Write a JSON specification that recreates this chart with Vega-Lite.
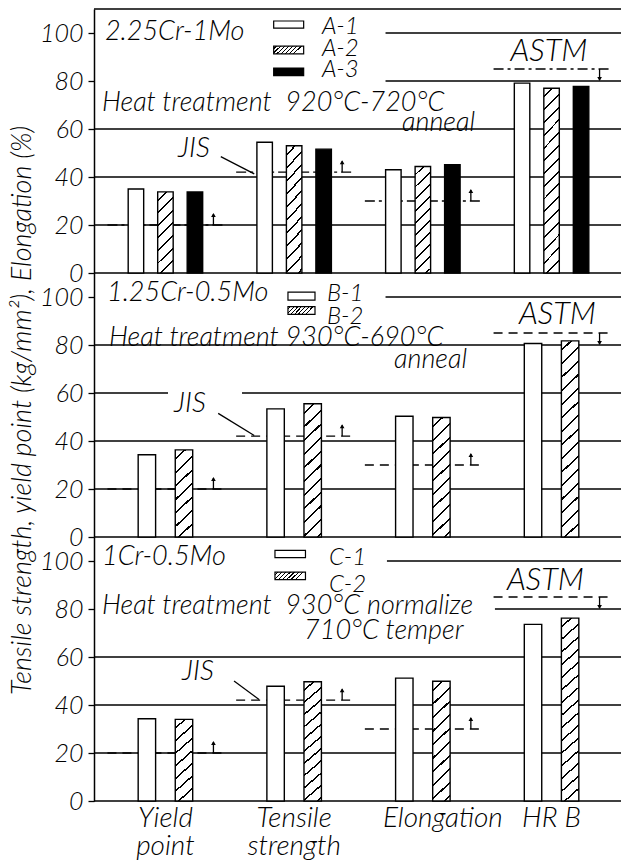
{
"$schema":"https://vega.github.io/schema/vega-lite/v6.json",
"padding":{"left":8,"top":8,"right":0,"bottom":0},
"autosize":{"type":"pad"},
"bounds":"flush",
"spacing":0,
"resolve":{"scale":{"xOffset":"independent"}},
"datasets":{
"bars":[
{"panel":"A","prop":"Yield point","sample":"A-1","value":35.0},
{"panel":"A","prop":"Yield point","sample":"A-2","value":33.8},
{"panel":"A","prop":"Yield point","sample":"A-3","value":33.8},
{"panel":"A","prop":"Tensile strength","sample":"A-1","value":54.5},
{"panel":"A","prop":"Tensile strength","sample":"A-2","value":53.0},
{"panel":"A","prop":"Tensile strength","sample":"A-3","value":51.6},
{"panel":"A","prop":"Elongation","sample":"A-1","value":43.0},
{"panel":"A","prop":"Elongation","sample":"A-2","value":44.4},
{"panel":"A","prop":"Elongation","sample":"A-3","value":45.1},
{"panel":"A","prop":"HR B","sample":"A-1","value":79.1},
{"panel":"A","prop":"HR B","sample":"A-2","value":77.0},
{"panel":"A","prop":"HR B","sample":"A-3","value":77.7},
{"panel":"B","prop":"Yield point","sample":"B-1","value":34.3},
{"panel":"B","prop":"Yield point","sample":"B-2","value":36.3},
{"panel":"B","prop":"Tensile strength","sample":"B-1","value":53.4},
{"panel":"B","prop":"Tensile strength","sample":"B-2","value":55.5},
{"panel":"B","prop":"Elongation","sample":"B-1","value":50.3},
{"panel":"B","prop":"Elongation","sample":"B-2","value":49.8},
{"panel":"B","prop":"HR B","sample":"B-1","value":80.6},
{"panel":"B","prop":"HR B","sample":"B-2","value":81.7},
{"panel":"C","prop":"Yield point","sample":"C-1","value":34.3},
{"panel":"C","prop":"Yield point","sample":"C-2","value":34.0},
{"panel":"C","prop":"Tensile strength","sample":"C-1","value":47.8},
{"panel":"C","prop":"Tensile strength","sample":"C-2","value":49.7},
{"panel":"C","prop":"Elongation","sample":"C-1","value":51.2},
{"panel":"C","prop":"Elongation","sample":"C-2","value":49.9},
{"panel":"C","prop":"HR B","sample":"C-1","value":73.6},
{"panel":"C","prop":"HR B","sample":"C-2","value":76.2}
],
"standards":[
{"panel":"A","prop":"Yield point","std":"JIS","value":20,"limit":"min"},
{"panel":"A","prop":"Tensile strength","std":"JIS","value":42,"limit":"min"},
{"panel":"A","prop":"Elongation","std":"JIS","value":30,"limit":"min"},
{"panel":"A","prop":"HR B","std":"ASTM","value":85,"limit":"max"},
{"panel":"B","prop":"Yield point","std":"JIS","value":20,"limit":"min"},
{"panel":"B","prop":"Tensile strength","std":"JIS","value":42,"limit":"min"},
{"panel":"B","prop":"Elongation","std":"JIS","value":30,"limit":"min"},
{"panel":"B","prop":"HR B","std":"ASTM","value":85,"limit":"max"},
{"panel":"C","prop":"Yield point","std":"JIS","value":20,"limit":"min"},
{"panel":"C","prop":"Tensile strength","std":"JIS","value":42,"limit":"min"},
{"panel":"C","prop":"Elongation","std":"JIS","value":30,"limit":"min"},
{"panel":"C","prop":"HR B","std":"ASTM","value":85,"limit":"max"}
]
},
"vconcat":[
{
"width":529,"height":264,
"resolve":{"scale":{"x":"independent"}},
"layer":[
{"data":{"values":[{}]},"layer":[
{"mark":"rule","encoding":{"x":{"datum":-0.055,"type":"quantitative","scale":{"domain":[-0.055,4.055],"nice":false,"zero":false},"axis":null},"x2":{"datum":4.055},"y":{"datum":0,"type":"quantitative","scale":{"domain":[0,110],"nice":false},"title":null,"axis":{"values":[0,20,40,60,80,100],"title":null}}}},
{"mark":"rule","encoding":{"x":{"datum":-0.055,"type":"quantitative","axis":null},"x2":{"datum":4.055},"y":{"datum":20,"type":"quantitative","title":null}}},
{"mark":"rule","encoding":{"x":{"datum":-0.055,"type":"quantitative","axis":null},"x2":{"datum":4.055},"y":{"datum":40,"type":"quantitative","title":null}}},
{"mark":"rule","encoding":{"x":{"datum":-0.055,"type":"quantitative","axis":null},"x2":{"datum":4.055},"y":{"datum":60,"type":"quantitative","title":null}}},
{"mark":"rule","encoding":{"x":{"datum":2.21,"type":"quantitative","axis":null},"x2":{"datum":4.055},"y":{"datum":80,"type":"quantitative","title":null}}},
{"mark":"rule","encoding":{"x":{"datum":2.21,"type":"quantitative","axis":null},"x2":{"datum":4.055},"y":{"datum":100,"type":"quantitative","title":null}}},
{"mark":"rule","encoding":{"x":{"datum":-0.055,"type":"quantitative","axis":null},"x2":{"datum":4.055},"y":{"datum":110,"type":"quantitative","title":null}}}
]},
{"layer":[
{"data":{"name":"standards"},"transform":[{"filter":"datum.panel == 'A'"}],
"mark":{"type":"rule","strokeDash":[10,4,3,4],"xOffset":-58,"x2Offset":60},
"encoding":{"x":{"field":"prop","type":"nominal","scale":{"domain":["Yield point","Tensile strength","Elongation","HR B"],"paddingInner":0,"paddingOuter":0.055},"axis":null},"x2":{"field":"prop"},"y":{"field":"value","type":"quantitative","scale":{"domain":[0,110],"nice":false},"title":null}}},
{"data":{"name":"standards"},"transform":[{"filter":"datum.panel == 'A' && datum.limit == 'min'"}],
"mark":{"type":"rule","xOffset":48,"y2Offset":-11},
"encoding":{"x":{"field":"prop","type":"nominal","axis":null},"y":{"field":"value","type":"quantitative","title":null},"y2":{"field":"value"}}},
{"data":{"name":"standards"},"transform":[{"filter":"datum.panel == 'A' && datum.limit == 'min'"}],
"mark":{"type":"point","shape":"triangle-up","filled":true,"color":"black","opacity":1,"size":22,"xOffset":48,"yOffset":-10},
"encoding":{"x":{"field":"prop","type":"nominal","axis":null},"y":{"field":"value","type":"quantitative","title":null}}},
{"data":{"name":"standards"},"transform":[{"filter":"datum.panel == 'A' && datum.limit == 'max'"}],
"mark":{"type":"rule","xOffset":48,"y2Offset":11},
"encoding":{"x":{"field":"prop","type":"nominal","axis":null},"y":{"field":"value","type":"quantitative","title":null},"y2":{"field":"value"}}},
{"data":{"name":"standards"},"transform":[{"filter":"datum.panel == 'A' && datum.limit == 'max'"}],
"mark":{"type":"point","shape":"triangle-down","filled":true,"color":"black","opacity":1,"size":22,"xOffset":48,"yOffset":10},
"encoding":{"x":{"field":"prop","type":"nominal","axis":null},"y":{"field":"value","type":"quantitative","title":null}}},
{"data":{"name":"bars"},"transform":[{"filter":"datum.panel == 'A'"}],
"mark":{"type":"bar","stroke":"black","strokeWidth":1.4},
"encoding":{
"x":{"field":"prop","type":"nominal","scale":{"domain":["Yield point","Tensile strength","Elongation","HR B"],"paddingInner":0,"paddingOuter":0.055},"axis":null},
"xOffset":{"field":"sample","type":"nominal","scale":{"paddingInner":0.475,"paddingOuter":0.919}},
"y":{"field":"value","type":"quantitative","scale":{"domain":[0,110],"nice":false},"title":null},
"fill":{"condition":[
{"test":"datum.sample == 'A-3'","value":"black"},
{"test":"indexof(datum.sample, '-2') > 0 && datum.prop == 'Yield point'","value":{"gradient":"linear","x1":0,"y1":0,"x2":1,"y2":5.25,"stops":[{"offset":0,"color":"#fff"},{"offset":0.0175,"color":"#fff"},{"offset":0.0175,"color":"#000"},{"offset":0.0219,"color":"#000"},{"offset":0.0219,"color":"#fff"},{"offset":0.046,"color":"#fff"},{"offset":0.046,"color":"#000"},{"offset":0.0504,"color":"#000"},{"offset":0.0504,"color":"#fff"},{"offset":0.0744,"color":"#fff"},{"offset":0.0744,"color":"#000"},{"offset":0.0788,"color":"#000"},{"offset":0.0788,"color":"#fff"},{"offset":0.1028,"color":"#fff"},{"offset":0.1028,"color":"#000"},{"offset":0.1072,"color":"#000"},{"offset":0.1072,"color":"#fff"},{"offset":0.1313,"color":"#fff"},{"offset":0.1313,"color":"#000"},{"offset":0.1357,"color":"#000"},{"offset":0.1357,"color":"#fff"},{"offset":0.1597,"color":"#fff"},{"offset":0.1597,"color":"#000"},{"offset":0.1641,"color":"#000"},{"offset":0.1641,"color":"#fff"},{"offset":0.1882,"color":"#fff"},{"offset":0.1882,"color":"#000"},{"offset":0.1926,"color":"#000"},{"offset":0.1926,"color":"#fff"},{"offset":0.2166,"color":"#fff"},{"offset":0.2166,"color":"#000"},{"offset":0.221,"color":"#000"},{"offset":0.221,"color":"#fff"},{"offset":1,"color":"#fff"}]}},
{"test":"indexof(datum.sample, '-2') > 0 && datum.prop == 'Tensile strength'","value":{"gradient":"linear","x1":0,"y1":0,"x2":1,"y2":7.9375,"stops":[{"offset":0,"color":"#fff"},{"offset":0.0078,"color":"#fff"},{"offset":0.0078,"color":"#000"},{"offset":0.0098,"color":"#000"},{"offset":0.0098,"color":"#fff"},{"offset":0.0205,"color":"#fff"},{"offset":0.0205,"color":"#000"},{"offset":0.0225,"color":"#000"},{"offset":0.0225,"color":"#fff"},{"offset":0.0332,"color":"#fff"},{"offset":0.0332,"color":"#000"},{"offset":0.0352,"color":"#000"},{"offset":0.0352,"color":"#fff"},{"offset":0.0459,"color":"#fff"},{"offset":0.0459,"color":"#000"},{"offset":0.0479,"color":"#000"},{"offset":0.0479,"color":"#fff"},{"offset":0.0586,"color":"#fff"},{"offset":0.0586,"color":"#000"},{"offset":0.0606,"color":"#000"},{"offset":0.0606,"color":"#fff"},{"offset":0.0713,"color":"#fff"},{"offset":0.0713,"color":"#000"},{"offset":0.0733,"color":"#000"},{"offset":0.0733,"color":"#fff"},{"offset":0.084,"color":"#fff"},{"offset":0.084,"color":"#000"},{"offset":0.086,"color":"#000"},{"offset":0.086,"color":"#fff"},{"offset":0.0967,"color":"#fff"},{"offset":0.0967,"color":"#000"},{"offset":0.0987,"color":"#000"},{"offset":0.0987,"color":"#fff"},{"offset":0.1094,"color":"#fff"},{"offset":0.1094,"color":"#000"},{"offset":0.1114,"color":"#000"},{"offset":0.1114,"color":"#fff"},{"offset":0.1221,"color":"#fff"},{"offset":0.1221,"color":"#000"},{"offset":0.1241,"color":"#000"},{"offset":0.1241,"color":"#fff"},{"offset":0.1348,"color":"#fff"},{"offset":0.1348,"color":"#000"},{"offset":0.1368,"color":"#000"},{"offset":0.1368,"color":"#fff"},{"offset":1,"color":"#fff"}]}},
{"test":"indexof(datum.sample, '-2') > 0 && datum.prop == 'Elongation'","value":{"gradient":"linear","x1":0,"y1":0,"x2":1,"y2":7.1875,"stops":[{"offset":0,"color":"#fff"},{"offset":0.0095,"color":"#fff"},{"offset":0.0095,"color":"#000"},{"offset":0.0119,"color":"#000"},{"offset":0.0119,"color":"#fff"},{"offset":0.0249,"color":"#fff"},{"offset":0.0249,"color":"#000"},{"offset":0.0273,"color":"#000"},{"offset":0.0273,"color":"#fff"},{"offset":0.0404,"color":"#fff"},{"offset":0.0404,"color":"#000"},{"offset":0.0428,"color":"#000"},{"offset":0.0428,"color":"#fff"},{"offset":0.0558,"color":"#fff"},{"offset":0.0558,"color":"#000"},{"offset":0.0582,"color":"#000"},{"offset":0.0582,"color":"#fff"},{"offset":0.0712,"color":"#fff"},{"offset":0.0712,"color":"#000"},{"offset":0.0736,"color":"#000"},{"offset":0.0736,"color":"#fff"},{"offset":0.0866,"color":"#fff"},{"offset":0.0866,"color":"#000"},{"offset":0.089,"color":"#000"},{"offset":0.089,"color":"#fff"},{"offset":0.1021,"color":"#fff"},{"offset":0.1021,"color":"#000"},{"offset":0.1045,"color":"#000"},{"offset":0.1045,"color":"#fff"},{"offset":0.1175,"color":"#fff"},{"offset":0.1175,"color":"#000"},{"offset":0.1199,"color":"#000"},{"offset":0.1199,"color":"#fff"},{"offset":0.1329,"color":"#fff"},{"offset":0.1329,"color":"#000"},{"offset":0.1353,"color":"#000"},{"offset":0.1353,"color":"#fff"},{"offset":0.1484,"color":"#fff"},{"offset":0.1484,"color":"#000"},{"offset":0.1508,"color":"#000"},{"offset":0.1508,"color":"#fff"},{"offset":1,"color":"#fff"}]}},
{"test":"indexof(datum.sample, '-2') > 0 && datum.prop == 'HR B'","value":{"gradient":"linear","x1":0,"y1":0,"x2":1,"y2":11.75,"stops":[{"offset":0,"color":"#fff"},{"offset":0.0036,"color":"#fff"},{"offset":0.0036,"color":"#000"},{"offset":0.0045,"color":"#000"},{"offset":0.0045,"color":"#fff"},{"offset":0.0094,"color":"#fff"},{"offset":0.0094,"color":"#000"},{"offset":0.0103,"color":"#000"},{"offset":0.0103,"color":"#fff"},{"offset":0.0153,"color":"#fff"},{"offset":0.0153,"color":"#000"},{"offset":0.0162,"color":"#000"},{"offset":0.0162,"color":"#fff"},{"offset":0.0211,"color":"#fff"},{"offset":0.0211,"color":"#000"},{"offset":0.022,"color":"#000"},{"offset":0.022,"color":"#fff"},{"offset":0.027,"color":"#fff"},{"offset":0.027,"color":"#000"},{"offset":0.0279,"color":"#000"},{"offset":0.0279,"color":"#fff"},{"offset":0.0328,"color":"#fff"},{"offset":0.0328,"color":"#000"},{"offset":0.0337,"color":"#000"},{"offset":0.0337,"color":"#fff"},{"offset":0.0387,"color":"#fff"},{"offset":0.0387,"color":"#000"},{"offset":0.0396,"color":"#000"},{"offset":0.0396,"color":"#fff"},{"offset":0.0445,"color":"#fff"},{"offset":0.0445,"color":"#000"},{"offset":0.0454,"color":"#000"},{"offset":0.0454,"color":"#fff"},{"offset":0.0503,"color":"#fff"},{"offset":0.0503,"color":"#000"},{"offset":0.0512,"color":"#000"},{"offset":0.0512,"color":"#fff"},{"offset":0.0562,"color":"#fff"},{"offset":0.0562,"color":"#000"},{"offset":0.0571,"color":"#000"},{"offset":0.0571,"color":"#fff"},{"offset":0.062,"color":"#fff"},{"offset":0.062,"color":"#000"},{"offset":0.0629,"color":"#000"},{"offset":0.0629,"color":"#fff"},{"offset":0.0679,"color":"#fff"},{"offset":0.0679,"color":"#000"},{"offset":0.0688,"color":"#000"},{"offset":0.0688,"color":"#fff"},{"offset":0.0737,"color":"#fff"},{"offset":0.0737,"color":"#000"},{"offset":0.0746,"color":"#000"},{"offset":0.0746,"color":"#fff"},{"offset":0.0796,"color":"#fff"},{"offset":0.0796,"color":"#000"},{"offset":0.0805,"color":"#000"},{"offset":0.0805,"color":"#fff"},{"offset":0.0854,"color":"#fff"},{"offset":0.0854,"color":"#000"},{"offset":0.0863,"color":"#000"},{"offset":0.0863,"color":"#fff"},{"offset":0.0912,"color":"#fff"},{"offset":0.0912,"color":"#000"},{"offset":0.0921,"color":"#000"},{"offset":0.0921,"color":"#fff"},{"offset":1,"color":"#fff"}]}}
],"value":"white"}
}}
]},
{"data":{"values":[{}]},"layer":[
{"mark":{"type":"text","text":"2.25Cr-1Mo"},"encoding":{"x":{"datum":0.03,"type":"quantitative","scale":{"domain":[-0.055,4.055],"nice":false,"zero":false},"axis":null},"y":{"datum":97,"type":"quantitative","title":null}}},
{"mark":{"type":"rect","fill":"white"},"encoding":{"x":{"datum":1.341,"type":"quantitative","axis":null},"x2":{"datum":1.574},"y":{"datum":102,"type":"quantitative","title":null},"y2":{"datum":105}}},
{"mark":{"type":"rect","fill":{"gradient":"linear","x1":0,"y1":0,"x2":1,"y2":0.2655,"stops":[{"offset":0,"color":"#fff"},{"offset":0.064,"color":"#fff"},{"offset":0.064,"color":"#000"},{"offset":0.106,"color":"#000"},{"offset":0.106,"color":"#fff"},{"offset":0.193,"color":"#fff"},{"offset":0.193,"color":"#000"},{"offset":0.235,"color":"#000"},{"offset":0.235,"color":"#fff"},{"offset":0.322,"color":"#fff"},{"offset":0.322,"color":"#000"},{"offset":0.364,"color":"#000"},{"offset":0.364,"color":"#fff"},{"offset":0.451,"color":"#fff"},{"offset":0.451,"color":"#000"},{"offset":0.493,"color":"#000"},{"offset":0.493,"color":"#fff"},{"offset":0.58,"color":"#fff"},{"offset":0.58,"color":"#000"},{"offset":0.622,"color":"#000"},{"offset":0.622,"color":"#fff"},{"offset":0.709,"color":"#fff"},{"offset":0.709,"color":"#000"},{"offset":0.751,"color":"#000"},{"offset":0.751,"color":"#fff"},{"offset":0.838,"color":"#fff"},{"offset":0.838,"color":"#000"},{"offset":0.88,"color":"#000"},{"offset":0.88,"color":"#fff"},{"offset":1,"color":"#fff"}]}},"encoding":{"x":{"datum":1.341,"type":"quantitative","axis":null},"x2":{"datum":1.574},"y":{"datum":91.3,"type":"quantitative","title":null},"y2":{"datum":94.5}}},
{"mark":{"type":"rect","fill":"black"},"encoding":{"x":{"datum":1.341,"type":"quantitative","axis":null},"x2":{"datum":1.574},"y":{"datum":82.2,"type":"quantitative","title":null},"y2":{"datum":85.4}}},
{"mark":{"type":"text","text":"A-1","fontSize":24},"encoding":{"x":{"datum":1.716,"type":"quantitative","axis":null},"y":{"datum":99.5,"type":"quantitative","title":null}}},
{"mark":{"type":"text","text":"A-2","fontSize":24},"encoding":{"x":{"datum":1.716,"type":"quantitative","axis":null},"y":{"datum":90.5,"type":"quantitative","title":null}}},
{"mark":{"type":"text","text":"A-3","fontSize":24},"encoding":{"x":{"datum":1.716,"type":"quantitative","axis":null},"y":{"datum":81.5,"type":"quantitative","title":null}}},
{"mark":{"type":"text","text":"Heat treatment\u00a0 920°C-720°C"},"encoding":{"x":{"datum":0.007,"type":"quantitative","axis":null},"y":{"datum":67.5,"type":"quantitative","title":null}}},
{"mark":{"type":"text","text":"anneal"},"encoding":{"x":{"datum":2.338,"type":"quantitative","axis":null},"y":{"datum":59.3,"type":"quantitative","title":null}}},
{"mark":{"type":"text","text":"ASTM","fontSize":31},"encoding":{"x":{"datum":3.181,"type":"quantitative","axis":null},"y":{"datum":88.3,"type":"quantitative","title":null}}},
{"mark":{"type":"text","text":"JIS","fontSize":28},"encoding":{"x":{"datum":0.598,"type":"quantitative","axis":null},"y":{"datum":48.3,"type":"quantitative","title":null}}},
{"mark":"rule","encoding":{"x":{"datum":0.93,"type":"quantitative","axis":null},"x2":{"datum":1.19},"y":{"datum":48.5,"type":"quantitative","title":null},"y2":{"datum":41.3}}}
]}
]
},
{
"width":529,"height":264,
"resolve":{"scale":{"x":"independent"}},
"layer":[
{"data":{"values":[{}]},"layer":[
{"mark":"rule","encoding":{"x":{"datum":-0.055,"type":"quantitative","scale":{"domain":[-0.055,4.055],"nice":false,"zero":false},"axis":null},"x2":{"datum":4.055},"y":{"datum":0,"type":"quantitative","scale":{"domain":[0,110],"nice":false},"axis":{"values":[0,20,40,60,80,100],"title":"Tensile strength, yield point (kg/mm²), Elongation (%)","titleY":137,"titlePadding":3,"titleFontSize":27}}}},
{"mark":"rule","encoding":{"x":{"datum":-0.055,"type":"quantitative","axis":null},"x2":{"datum":4.055},"y":{"datum":20,"type":"quantitative"}}},
{"mark":"rule","encoding":{"x":{"datum":-0.055,"type":"quantitative","axis":null},"x2":{"datum":4.055},"y":{"datum":40,"type":"quantitative"}}},
{"mark":"rule","encoding":{"x":{"datum":-0.055,"type":"quantitative","axis":null},"x2":{"datum":0.52},"y":{"datum":60,"type":"quantitative"}}},
{"mark":"rule","encoding":{"x":{"datum":1.095,"type":"quantitative","axis":null},"x2":{"datum":4.055},"y":{"datum":60,"type":"quantitative"}}},
{"mark":"rule","encoding":{"x":{"datum":-0.055,"type":"quantitative","axis":null},"x2":{"datum":4.055},"y":{"datum":80,"type":"quantitative"}}},
{"mark":"rule","encoding":{"x":{"datum":2.21,"type":"quantitative","axis":null},"x2":{"datum":4.055},"y":{"datum":100,"type":"quantitative"}}}
]},
{"layer":[
{"data":{"name":"standards"},"transform":[{"filter":"datum.panel == 'B'"}],
"mark":{"type":"rule","strokeDash":[9,6],"xOffset":-58,"x2Offset":60},
"encoding":{"x":{"field":"prop","type":"nominal","scale":{"domain":["Yield point","Tensile strength","Elongation","HR B"],"paddingInner":0,"paddingOuter":0.055},"axis":null},"x2":{"field":"prop"},"y":{"field":"value","type":"quantitative","scale":{"domain":[0,110],"nice":false}}}},
{"data":{"name":"standards"},"transform":[{"filter":"datum.panel == 'B' && datum.limit == 'min'"}],
"mark":{"type":"rule","xOffset":48,"y2Offset":-11},
"encoding":{"x":{"field":"prop","type":"nominal","axis":null},"y":{"field":"value","type":"quantitative"},"y2":{"field":"value"}}},
{"data":{"name":"standards"},"transform":[{"filter":"datum.panel == 'B' && datum.limit == 'min'"}],
"mark":{"type":"point","shape":"triangle-up","filled":true,"color":"black","opacity":1,"size":22,"xOffset":48,"yOffset":-10},
"encoding":{"x":{"field":"prop","type":"nominal","axis":null},"y":{"field":"value","type":"quantitative"}}},
{"data":{"name":"standards"},"transform":[{"filter":"datum.panel == 'B' && datum.limit == 'max'"}],
"mark":{"type":"rule","xOffset":48,"y2Offset":11},
"encoding":{"x":{"field":"prop","type":"nominal","axis":null},"y":{"field":"value","type":"quantitative"},"y2":{"field":"value"}}},
{"data":{"name":"standards"},"transform":[{"filter":"datum.panel == 'B' && datum.limit == 'max'"}],
"mark":{"type":"point","shape":"triangle-down","filled":true,"color":"black","opacity":1,"size":22,"xOffset":48,"yOffset":10},
"encoding":{"x":{"field":"prop","type":"nominal","axis":null},"y":{"field":"value","type":"quantitative"}}},
{"data":{"name":"bars"},"transform":[{"filter":"datum.panel == 'B'"}],
"mark":{"type":"bar","stroke":"black","strokeWidth":1.4},
"encoding":{
"x":{"field":"prop","type":"nominal","scale":{"domain":["Yield point","Tensile strength","Elongation","HR B"],"paddingInner":0,"paddingOuter":0.055},"axis":null},
"xOffset":{"field":"sample","type":"nominal","scale":{"paddingInner":0.53,"paddingOuter":1.157}},
"y":{"field":"value","type":"quantitative","scale":{"domain":[0,110],"nice":false}},
"fill":{"condition":[
{"test":"indexof(datum.sample, '-2') > 0 && datum.prop == 'Yield point'","value":{"gradient":"linear","x1":0,"y1":0,"x2":1,"y2":5.25,"stops":[{"offset":0,"color":"#fff"},{"offset":0.0175,"color":"#fff"},{"offset":0.0175,"color":"#000"},{"offset":0.0219,"color":"#000"},{"offset":0.0219,"color":"#fff"},{"offset":0.046,"color":"#fff"},{"offset":0.046,"color":"#000"},{"offset":0.0504,"color":"#000"},{"offset":0.0504,"color":"#fff"},{"offset":0.0744,"color":"#fff"},{"offset":0.0744,"color":"#000"},{"offset":0.0788,"color":"#000"},{"offset":0.0788,"color":"#fff"},{"offset":0.1028,"color":"#fff"},{"offset":0.1028,"color":"#000"},{"offset":0.1072,"color":"#000"},{"offset":0.1072,"color":"#fff"},{"offset":0.1313,"color":"#fff"},{"offset":0.1313,"color":"#000"},{"offset":0.1357,"color":"#000"},{"offset":0.1357,"color":"#fff"},{"offset":0.1597,"color":"#fff"},{"offset":0.1597,"color":"#000"},{"offset":0.1641,"color":"#000"},{"offset":0.1641,"color":"#fff"},{"offset":0.1882,"color":"#fff"},{"offset":0.1882,"color":"#000"},{"offset":0.1926,"color":"#000"},{"offset":0.1926,"color":"#fff"},{"offset":0.2166,"color":"#fff"},{"offset":0.2166,"color":"#000"},{"offset":0.221,"color":"#000"},{"offset":0.221,"color":"#fff"},{"offset":1,"color":"#fff"}]}},
{"test":"indexof(datum.sample, '-2') > 0 && datum.prop == 'Tensile strength'","value":{"gradient":"linear","x1":0,"y1":0,"x2":1,"y2":7.9375,"stops":[{"offset":0,"color":"#fff"},{"offset":0.0078,"color":"#fff"},{"offset":0.0078,"color":"#000"},{"offset":0.0098,"color":"#000"},{"offset":0.0098,"color":"#fff"},{"offset":0.0205,"color":"#fff"},{"offset":0.0205,"color":"#000"},{"offset":0.0225,"color":"#000"},{"offset":0.0225,"color":"#fff"},{"offset":0.0332,"color":"#fff"},{"offset":0.0332,"color":"#000"},{"offset":0.0352,"color":"#000"},{"offset":0.0352,"color":"#fff"},{"offset":0.0459,"color":"#fff"},{"offset":0.0459,"color":"#000"},{"offset":0.0479,"color":"#000"},{"offset":0.0479,"color":"#fff"},{"offset":0.0586,"color":"#fff"},{"offset":0.0586,"color":"#000"},{"offset":0.0606,"color":"#000"},{"offset":0.0606,"color":"#fff"},{"offset":0.0713,"color":"#fff"},{"offset":0.0713,"color":"#000"},{"offset":0.0733,"color":"#000"},{"offset":0.0733,"color":"#fff"},{"offset":0.084,"color":"#fff"},{"offset":0.084,"color":"#000"},{"offset":0.086,"color":"#000"},{"offset":0.086,"color":"#fff"},{"offset":0.0967,"color":"#fff"},{"offset":0.0967,"color":"#000"},{"offset":0.0987,"color":"#000"},{"offset":0.0987,"color":"#fff"},{"offset":0.1094,"color":"#fff"},{"offset":0.1094,"color":"#000"},{"offset":0.1114,"color":"#000"},{"offset":0.1114,"color":"#fff"},{"offset":0.1221,"color":"#fff"},{"offset":0.1221,"color":"#000"},{"offset":0.1241,"color":"#000"},{"offset":0.1241,"color":"#fff"},{"offset":0.1348,"color":"#fff"},{"offset":0.1348,"color":"#000"},{"offset":0.1368,"color":"#000"},{"offset":0.1368,"color":"#fff"},{"offset":1,"color":"#fff"}]}},
{"test":"indexof(datum.sample, '-2') > 0 && datum.prop == 'Elongation'","value":{"gradient":"linear","x1":0,"y1":0,"x2":1,"y2":7.1875,"stops":[{"offset":0,"color":"#fff"},{"offset":0.0095,"color":"#fff"},{"offset":0.0095,"color":"#000"},{"offset":0.0119,"color":"#000"},{"offset":0.0119,"color":"#fff"},{"offset":0.0249,"color":"#fff"},{"offset":0.0249,"color":"#000"},{"offset":0.0273,"color":"#000"},{"offset":0.0273,"color":"#fff"},{"offset":0.0404,"color":"#fff"},{"offset":0.0404,"color":"#000"},{"offset":0.0428,"color":"#000"},{"offset":0.0428,"color":"#fff"},{"offset":0.0558,"color":"#fff"},{"offset":0.0558,"color":"#000"},{"offset":0.0582,"color":"#000"},{"offset":0.0582,"color":"#fff"},{"offset":0.0712,"color":"#fff"},{"offset":0.0712,"color":"#000"},{"offset":0.0736,"color":"#000"},{"offset":0.0736,"color":"#fff"},{"offset":0.0866,"color":"#fff"},{"offset":0.0866,"color":"#000"},{"offset":0.089,"color":"#000"},{"offset":0.089,"color":"#fff"},{"offset":0.1021,"color":"#fff"},{"offset":0.1021,"color":"#000"},{"offset":0.1045,"color":"#000"},{"offset":0.1045,"color":"#fff"},{"offset":0.1175,"color":"#fff"},{"offset":0.1175,"color":"#000"},{"offset":0.1199,"color":"#000"},{"offset":0.1199,"color":"#fff"},{"offset":0.1329,"color":"#fff"},{"offset":0.1329,"color":"#000"},{"offset":0.1353,"color":"#000"},{"offset":0.1353,"color":"#fff"},{"offset":0.1484,"color":"#fff"},{"offset":0.1484,"color":"#000"},{"offset":0.1508,"color":"#000"},{"offset":0.1508,"color":"#fff"},{"offset":1,"color":"#fff"}]}},
{"test":"indexof(datum.sample, '-2') > 0 && datum.prop == 'HR B'","value":{"gradient":"linear","x1":0,"y1":0,"x2":1,"y2":11.75,"stops":[{"offset":0,"color":"#fff"},{"offset":0.0036,"color":"#fff"},{"offset":0.0036,"color":"#000"},{"offset":0.0045,"color":"#000"},{"offset":0.0045,"color":"#fff"},{"offset":0.0094,"color":"#fff"},{"offset":0.0094,"color":"#000"},{"offset":0.0103,"color":"#000"},{"offset":0.0103,"color":"#fff"},{"offset":0.0153,"color":"#fff"},{"offset":0.0153,"color":"#000"},{"offset":0.0162,"color":"#000"},{"offset":0.0162,"color":"#fff"},{"offset":0.0211,"color":"#fff"},{"offset":0.0211,"color":"#000"},{"offset":0.022,"color":"#000"},{"offset":0.022,"color":"#fff"},{"offset":0.027,"color":"#fff"},{"offset":0.027,"color":"#000"},{"offset":0.0279,"color":"#000"},{"offset":0.0279,"color":"#fff"},{"offset":0.0328,"color":"#fff"},{"offset":0.0328,"color":"#000"},{"offset":0.0337,"color":"#000"},{"offset":0.0337,"color":"#fff"},{"offset":0.0387,"color":"#fff"},{"offset":0.0387,"color":"#000"},{"offset":0.0396,"color":"#000"},{"offset":0.0396,"color":"#fff"},{"offset":0.0445,"color":"#fff"},{"offset":0.0445,"color":"#000"},{"offset":0.0454,"color":"#000"},{"offset":0.0454,"color":"#fff"},{"offset":0.0503,"color":"#fff"},{"offset":0.0503,"color":"#000"},{"offset":0.0512,"color":"#000"},{"offset":0.0512,"color":"#fff"},{"offset":0.0562,"color":"#fff"},{"offset":0.0562,"color":"#000"},{"offset":0.0571,"color":"#000"},{"offset":0.0571,"color":"#fff"},{"offset":0.062,"color":"#fff"},{"offset":0.062,"color":"#000"},{"offset":0.0629,"color":"#000"},{"offset":0.0629,"color":"#fff"},{"offset":0.0679,"color":"#fff"},{"offset":0.0679,"color":"#000"},{"offset":0.0688,"color":"#000"},{"offset":0.0688,"color":"#fff"},{"offset":0.0737,"color":"#fff"},{"offset":0.0737,"color":"#000"},{"offset":0.0746,"color":"#000"},{"offset":0.0746,"color":"#fff"},{"offset":0.0796,"color":"#fff"},{"offset":0.0796,"color":"#000"},{"offset":0.0805,"color":"#000"},{"offset":0.0805,"color":"#fff"},{"offset":0.0854,"color":"#fff"},{"offset":0.0854,"color":"#000"},{"offset":0.0863,"color":"#000"},{"offset":0.0863,"color":"#fff"},{"offset":0.0912,"color":"#fff"},{"offset":0.0912,"color":"#000"},{"offset":0.0921,"color":"#000"},{"offset":0.0921,"color":"#fff"},{"offset":1,"color":"#fff"}]}}
],"value":"white"}
}}
]},
{"data":{"values":[{}]},"layer":[
{"mark":{"type":"text","text":"1.25Cr-0.5Mo"},"encoding":{"x":{"datum":0.046,"type":"quantitative","scale":{"domain":[-0.055,4.055],"nice":false,"zero":false},"axis":null},"y":{"datum":98.3,"type":"quantitative"}}},
{"mark":{"type":"rect","fill":"white"},"encoding":{"x":{"datum":1.452,"type":"quantitative","axis":null},"x2":{"datum":1.662},"y":{"datum":98.7,"type":"quantitative"},"y2":{"datum":102}}},
{"mark":{"type":"rect","fill":{"gradient":"linear","x1":0,"y1":0,"x2":1,"y2":0.2655,"stops":[{"offset":0,"color":"#fff"},{"offset":0.064,"color":"#fff"},{"offset":0.064,"color":"#000"},{"offset":0.106,"color":"#000"},{"offset":0.106,"color":"#fff"},{"offset":0.193,"color":"#fff"},{"offset":0.193,"color":"#000"},{"offset":0.235,"color":"#000"},{"offset":0.235,"color":"#fff"},{"offset":0.322,"color":"#fff"},{"offset":0.322,"color":"#000"},{"offset":0.364,"color":"#000"},{"offset":0.364,"color":"#fff"},{"offset":0.451,"color":"#fff"},{"offset":0.451,"color":"#000"},{"offset":0.493,"color":"#000"},{"offset":0.493,"color":"#fff"},{"offset":0.58,"color":"#fff"},{"offset":0.58,"color":"#000"},{"offset":0.622,"color":"#000"},{"offset":0.622,"color":"#fff"},{"offset":0.709,"color":"#fff"},{"offset":0.709,"color":"#000"},{"offset":0.751,"color":"#000"},{"offset":0.751,"color":"#fff"},{"offset":0.838,"color":"#fff"},{"offset":0.838,"color":"#000"},{"offset":0.88,"color":"#000"},{"offset":0.88,"color":"#fff"},{"offset":1,"color":"#fff"}]}},"encoding":{"x":{"datum":1.452,"type":"quantitative","axis":null},"x2":{"datum":1.662},"y":{"datum":92.8,"type":"quantitative"},"y2":{"datum":96}}},
{"mark":{"type":"text","text":"B-1","fontSize":24},"encoding":{"x":{"datum":1.755,"type":"quantitative","axis":null},"y":{"datum":98.3,"type":"quantitative"}}},
{"mark":{"type":"text","text":"B-2","fontSize":24},"encoding":{"x":{"datum":1.755,"type":"quantitative","axis":null},"y":{"datum":88.9,"type":"quantitative"}}},
{"mark":{"type":"text","text":"Heat treatment 930°C-690°C"},"encoding":{"x":{"datum":0.062,"type":"quantitative","axis":null},"y":{"datum":79.5,"type":"quantitative"}}},
{"mark":{"type":"text","text":"anneal"},"encoding":{"x":{"datum":2.276,"type":"quantitative","axis":null},"y":{"datum":70.3,"type":"quantitative"}}},
{"mark":{"type":"text","text":"ASTM","fontSize":31},"encoding":{"x":{"datum":3.247,"type":"quantitative","axis":null},"y":{"datum":88.9,"type":"quantitative"}}},
{"mark":{"type":"text","text":"JIS","fontSize":28},"encoding":{"x":{"datum":0.567,"type":"quantitative","axis":null},"y":{"datum":51.9,"type":"quantitative"}}},
{"mark":"rule","encoding":{"x":{"datum":0.91,"type":"quantitative","axis":null},"x2":{"datum":1.19},"y":{"datum":51.5,"type":"quantitative"},"y2":{"datum":42.3}}}
]}
]
},
{
"width":529,"height":264,
"resolve":{"scale":{"x":"independent"}},
"layer":[
{"data":{"values":[{}]},"layer":[
{"mark":"rule","encoding":{"x":{"datum":-0.055,"type":"quantitative","scale":{"domain":[-0.055,4.055],"nice":false,"zero":false},"axis":null},"x2":{"datum":4.055},"y":{"datum":0,"type":"quantitative","scale":{"domain":[0,110],"nice":false},"title":null,"axis":{"values":[0,20,40,60,80,100],"title":null}}}},
{"mark":"rule","encoding":{"x":{"datum":-0.055,"type":"quantitative","axis":null},"x2":{"datum":4.055},"y":{"datum":20,"type":"quantitative","title":null}}},
{"mark":"rule","encoding":{"x":{"datum":-0.055,"type":"quantitative","axis":null},"x2":{"datum":4.055},"y":{"datum":40,"type":"quantitative","title":null}}},
{"mark":"rule","encoding":{"x":{"datum":-0.055,"type":"quantitative","axis":null},"x2":{"datum":4.055},"y":{"datum":60,"type":"quantitative","title":null}}},
{"mark":"rule","encoding":{"x":{"datum":3.06,"type":"quantitative","axis":null},"x2":{"datum":4.055},"y":{"datum":80,"type":"quantitative","title":null}}},
{"mark":"rule","encoding":{"x":{"datum":2.221,"type":"quantitative","axis":null},"x2":{"datum":4.055},"y":{"datum":100,"type":"quantitative","title":null}}}
]},
{"layer":[
{"data":{"name":"standards"},"transform":[{"filter":"datum.panel == 'C'"}],
"mark":{"type":"rule","strokeDash":[9,6],"xOffset":-58,"x2Offset":60},
"encoding":{"x":{"field":"prop","type":"nominal","title":null,"scale":{"domain":["Yield point","Tensile strength","Elongation","HR B"],"paddingInner":0,"paddingOuter":0.055}},"x2":{"field":"prop"},"y":{"field":"value","type":"quantitative","scale":{"domain":[0,110],"nice":false},"title":null}}},
{"data":{"name":"standards"},"transform":[{"filter":"datum.panel == 'C' && datum.limit == 'min'"}],
"mark":{"type":"rule","xOffset":48,"y2Offset":-11},
"encoding":{"x":{"field":"prop","type":"nominal","title":null},"y":{"field":"value","type":"quantitative","title":null},"y2":{"field":"value"}}},
{"data":{"name":"standards"},"transform":[{"filter":"datum.panel == 'C' && datum.limit == 'min'"}],
"mark":{"type":"point","shape":"triangle-up","filled":true,"color":"black","opacity":1,"size":22,"xOffset":48,"yOffset":-10},
"encoding":{"x":{"field":"prop","type":"nominal","title":null},"y":{"field":"value","type":"quantitative","title":null}}},
{"data":{"name":"standards"},"transform":[{"filter":"datum.panel == 'C' && datum.limit == 'max'"}],
"mark":{"type":"rule","xOffset":48,"y2Offset":11},
"encoding":{"x":{"field":"prop","type":"nominal","title":null},"y":{"field":"value","type":"quantitative","title":null},"y2":{"field":"value"}}},
{"data":{"name":"standards"},"transform":[{"filter":"datum.panel == 'C' && datum.limit == 'max'"}],
"mark":{"type":"point","shape":"triangle-down","filled":true,"color":"black","opacity":1,"size":22,"xOffset":48,"yOffset":10},
"encoding":{"x":{"field":"prop","type":"nominal","title":null},"y":{"field":"value","type":"quantitative","title":null}}},
{"data":{"name":"bars"},"transform":[{"filter":"datum.panel == 'C'"}],
"mark":{"type":"bar","stroke":"black","strokeWidth":1.4},
"encoding":{
"x":{"field":"prop","type":"nominal","title":null,"scale":{"domain":["Yield point","Tensile strength","Elongation","HR B"],"paddingInner":0,"paddingOuter":0.055},"axis":{"domain":false,"ticks":false,"labelAngle":0,"labelAlign":"center","labelFontSize":28,"labelPadding":3,"labelLineHeight":28,"labelBaseline":"top","title":null,"labelOffset":{"condition":{"test":"datum.value == 'Elongation'","value":20},"value":0},"labelExpr":"datum.value == 'Yield point' ? ['Yield','point'] : datum.value == 'Tensile strength' ? ['Tensile','strength'] : datum.value"}},
"xOffset":{"field":"sample","type":"nominal","scale":{"paddingInner":0.53,"paddingOuter":1.157}},
"y":{"field":"value","type":"quantitative","scale":{"domain":[0,110],"nice":false},"title":null},
"fill":{"condition":[
{"test":"indexof(datum.sample, '-2') > 0 && datum.prop == 'Yield point'","value":{"gradient":"linear","x1":0,"y1":0,"x2":1,"y2":5.25,"stops":[{"offset":0,"color":"#fff"},{"offset":0.0175,"color":"#fff"},{"offset":0.0175,"color":"#000"},{"offset":0.0219,"color":"#000"},{"offset":0.0219,"color":"#fff"},{"offset":0.046,"color":"#fff"},{"offset":0.046,"color":"#000"},{"offset":0.0504,"color":"#000"},{"offset":0.0504,"color":"#fff"},{"offset":0.0744,"color":"#fff"},{"offset":0.0744,"color":"#000"},{"offset":0.0788,"color":"#000"},{"offset":0.0788,"color":"#fff"},{"offset":0.1028,"color":"#fff"},{"offset":0.1028,"color":"#000"},{"offset":0.1072,"color":"#000"},{"offset":0.1072,"color":"#fff"},{"offset":0.1313,"color":"#fff"},{"offset":0.1313,"color":"#000"},{"offset":0.1357,"color":"#000"},{"offset":0.1357,"color":"#fff"},{"offset":0.1597,"color":"#fff"},{"offset":0.1597,"color":"#000"},{"offset":0.1641,"color":"#000"},{"offset":0.1641,"color":"#fff"},{"offset":0.1882,"color":"#fff"},{"offset":0.1882,"color":"#000"},{"offset":0.1926,"color":"#000"},{"offset":0.1926,"color":"#fff"},{"offset":0.2166,"color":"#fff"},{"offset":0.2166,"color":"#000"},{"offset":0.221,"color":"#000"},{"offset":0.221,"color":"#fff"},{"offset":1,"color":"#fff"}]}},
{"test":"indexof(datum.sample, '-2') > 0 && datum.prop == 'Tensile strength'","value":{"gradient":"linear","x1":0,"y1":0,"x2":1,"y2":7.9375,"stops":[{"offset":0,"color":"#fff"},{"offset":0.0078,"color":"#fff"},{"offset":0.0078,"color":"#000"},{"offset":0.0098,"color":"#000"},{"offset":0.0098,"color":"#fff"},{"offset":0.0205,"color":"#fff"},{"offset":0.0205,"color":"#000"},{"offset":0.0225,"color":"#000"},{"offset":0.0225,"color":"#fff"},{"offset":0.0332,"color":"#fff"},{"offset":0.0332,"color":"#000"},{"offset":0.0352,"color":"#000"},{"offset":0.0352,"color":"#fff"},{"offset":0.0459,"color":"#fff"},{"offset":0.0459,"color":"#000"},{"offset":0.0479,"color":"#000"},{"offset":0.0479,"color":"#fff"},{"offset":0.0586,"color":"#fff"},{"offset":0.0586,"color":"#000"},{"offset":0.0606,"color":"#000"},{"offset":0.0606,"color":"#fff"},{"offset":0.0713,"color":"#fff"},{"offset":0.0713,"color":"#000"},{"offset":0.0733,"color":"#000"},{"offset":0.0733,"color":"#fff"},{"offset":0.084,"color":"#fff"},{"offset":0.084,"color":"#000"},{"offset":0.086,"color":"#000"},{"offset":0.086,"color":"#fff"},{"offset":0.0967,"color":"#fff"},{"offset":0.0967,"color":"#000"},{"offset":0.0987,"color":"#000"},{"offset":0.0987,"color":"#fff"},{"offset":0.1094,"color":"#fff"},{"offset":0.1094,"color":"#000"},{"offset":0.1114,"color":"#000"},{"offset":0.1114,"color":"#fff"},{"offset":0.1221,"color":"#fff"},{"offset":0.1221,"color":"#000"},{"offset":0.1241,"color":"#000"},{"offset":0.1241,"color":"#fff"},{"offset":0.1348,"color":"#fff"},{"offset":0.1348,"color":"#000"},{"offset":0.1368,"color":"#000"},{"offset":0.1368,"color":"#fff"},{"offset":1,"color":"#fff"}]}},
{"test":"indexof(datum.sample, '-2') > 0 && datum.prop == 'Elongation'","value":{"gradient":"linear","x1":0,"y1":0,"x2":1,"y2":7.1875,"stops":[{"offset":0,"color":"#fff"},{"offset":0.0095,"color":"#fff"},{"offset":0.0095,"color":"#000"},{"offset":0.0119,"color":"#000"},{"offset":0.0119,"color":"#fff"},{"offset":0.0249,"color":"#fff"},{"offset":0.0249,"color":"#000"},{"offset":0.0273,"color":"#000"},{"offset":0.0273,"color":"#fff"},{"offset":0.0404,"color":"#fff"},{"offset":0.0404,"color":"#000"},{"offset":0.0428,"color":"#000"},{"offset":0.0428,"color":"#fff"},{"offset":0.0558,"color":"#fff"},{"offset":0.0558,"color":"#000"},{"offset":0.0582,"color":"#000"},{"offset":0.0582,"color":"#fff"},{"offset":0.0712,"color":"#fff"},{"offset":0.0712,"color":"#000"},{"offset":0.0736,"color":"#000"},{"offset":0.0736,"color":"#fff"},{"offset":0.0866,"color":"#fff"},{"offset":0.0866,"color":"#000"},{"offset":0.089,"color":"#000"},{"offset":0.089,"color":"#fff"},{"offset":0.1021,"color":"#fff"},{"offset":0.1021,"color":"#000"},{"offset":0.1045,"color":"#000"},{"offset":0.1045,"color":"#fff"},{"offset":0.1175,"color":"#fff"},{"offset":0.1175,"color":"#000"},{"offset":0.1199,"color":"#000"},{"offset":0.1199,"color":"#fff"},{"offset":0.1329,"color":"#fff"},{"offset":0.1329,"color":"#000"},{"offset":0.1353,"color":"#000"},{"offset":0.1353,"color":"#fff"},{"offset":0.1484,"color":"#fff"},{"offset":0.1484,"color":"#000"},{"offset":0.1508,"color":"#000"},{"offset":0.1508,"color":"#fff"},{"offset":1,"color":"#fff"}]}},
{"test":"indexof(datum.sample, '-2') > 0 && datum.prop == 'HR B'","value":{"gradient":"linear","x1":0,"y1":0,"x2":1,"y2":11.75,"stops":[{"offset":0,"color":"#fff"},{"offset":0.0036,"color":"#fff"},{"offset":0.0036,"color":"#000"},{"offset":0.0045,"color":"#000"},{"offset":0.0045,"color":"#fff"},{"offset":0.0094,"color":"#fff"},{"offset":0.0094,"color":"#000"},{"offset":0.0103,"color":"#000"},{"offset":0.0103,"color":"#fff"},{"offset":0.0153,"color":"#fff"},{"offset":0.0153,"color":"#000"},{"offset":0.0162,"color":"#000"},{"offset":0.0162,"color":"#fff"},{"offset":0.0211,"color":"#fff"},{"offset":0.0211,"color":"#000"},{"offset":0.022,"color":"#000"},{"offset":0.022,"color":"#fff"},{"offset":0.027,"color":"#fff"},{"offset":0.027,"color":"#000"},{"offset":0.0279,"color":"#000"},{"offset":0.0279,"color":"#fff"},{"offset":0.0328,"color":"#fff"},{"offset":0.0328,"color":"#000"},{"offset":0.0337,"color":"#000"},{"offset":0.0337,"color":"#fff"},{"offset":0.0387,"color":"#fff"},{"offset":0.0387,"color":"#000"},{"offset":0.0396,"color":"#000"},{"offset":0.0396,"color":"#fff"},{"offset":0.0445,"color":"#fff"},{"offset":0.0445,"color":"#000"},{"offset":0.0454,"color":"#000"},{"offset":0.0454,"color":"#fff"},{"offset":0.0503,"color":"#fff"},{"offset":0.0503,"color":"#000"},{"offset":0.0512,"color":"#000"},{"offset":0.0512,"color":"#fff"},{"offset":0.0562,"color":"#fff"},{"offset":0.0562,"color":"#000"},{"offset":0.0571,"color":"#000"},{"offset":0.0571,"color":"#fff"},{"offset":0.062,"color":"#fff"},{"offset":0.062,"color":"#000"},{"offset":0.0629,"color":"#000"},{"offset":0.0629,"color":"#fff"},{"offset":0.0679,"color":"#fff"},{"offset":0.0679,"color":"#000"},{"offset":0.0688,"color":"#000"},{"offset":0.0688,"color":"#fff"},{"offset":0.0737,"color":"#fff"},{"offset":0.0737,"color":"#000"},{"offset":0.0746,"color":"#000"},{"offset":0.0746,"color":"#fff"},{"offset":0.0796,"color":"#fff"},{"offset":0.0796,"color":"#000"},{"offset":0.0805,"color":"#000"},{"offset":0.0805,"color":"#fff"},{"offset":0.0854,"color":"#fff"},{"offset":0.0854,"color":"#000"},{"offset":0.0863,"color":"#000"},{"offset":0.0863,"color":"#fff"},{"offset":0.0912,"color":"#fff"},{"offset":0.0912,"color":"#000"},{"offset":0.0921,"color":"#000"},{"offset":0.0921,"color":"#fff"},{"offset":1,"color":"#fff"}]}}
],"value":"white"}
}}
]},
{"data":{"values":[{}]},"layer":[
{"mark":{"type":"text","text":"1Cr-0.5Mo"},"encoding":{"x":{"datum":0.007,"type":"quantitative","scale":{"domain":[-0.055,4.055],"nice":false,"zero":false},"axis":null},"y":{"datum":98.2,"type":"quantitative","title":null}}},
{"mark":{"type":"rect","fill":"white"},"encoding":{"x":{"datum":1.351,"type":"quantitative","axis":null},"x2":{"datum":1.588},"y":{"datum":101.4,"type":"quantitative","title":null},"y2":{"datum":104.4}}},
{"mark":{"type":"rect","fill":{"gradient":"linear","x1":0,"y1":0,"x2":1,"y2":0.2655,"stops":[{"offset":0,"color":"#fff"},{"offset":0.064,"color":"#fff"},{"offset":0.064,"color":"#000"},{"offset":0.106,"color":"#000"},{"offset":0.106,"color":"#fff"},{"offset":0.193,"color":"#fff"},{"offset":0.193,"color":"#000"},{"offset":0.235,"color":"#000"},{"offset":0.235,"color":"#fff"},{"offset":0.322,"color":"#fff"},{"offset":0.322,"color":"#000"},{"offset":0.364,"color":"#000"},{"offset":0.364,"color":"#fff"},{"offset":0.451,"color":"#fff"},{"offset":0.451,"color":"#000"},{"offset":0.493,"color":"#000"},{"offset":0.493,"color":"#fff"},{"offset":0.58,"color":"#fff"},{"offset":0.58,"color":"#000"},{"offset":0.622,"color":"#000"},{"offset":0.622,"color":"#fff"},{"offset":0.709,"color":"#fff"},{"offset":0.709,"color":"#000"},{"offset":0.751,"color":"#000"},{"offset":0.751,"color":"#fff"},{"offset":0.838,"color":"#fff"},{"offset":0.838,"color":"#000"},{"offset":0.88,"color":"#000"},{"offset":0.88,"color":"#fff"},{"offset":1,"color":"#fff"}]}},"encoding":{"x":{"datum":1.351,"type":"quantitative","axis":null},"x2":{"datum":1.588},"y":{"datum":92.2,"type":"quantitative","title":null},"y2":{"datum":95.4}}},
{"mark":{"type":"text","text":"C-1","fontSize":24},"encoding":{"x":{"datum":1.771,"type":"quantitative","axis":null},"y":{"datum":98.2,"type":"quantitative","title":null}}},
{"mark":{"type":"text","text":"C-2","fontSize":24},"encoding":{"x":{"datum":1.771,"type":"quantitative","axis":null},"y":{"datum":87.1,"type":"quantitative","title":null}}},
{"mark":{"type":"text","text":"Heat treatment\u00a0 930°C normalize"},"encoding":{"x":{"datum":0.007,"type":"quantitative","axis":null},"y":{"datum":77.9,"type":"quantitative","title":null}}},
{"mark":{"type":"text","text":"710°C temper"},"encoding":{"x":{"datum":1.577,"type":"quantitative","axis":null},"y":{"datum":67.5,"type":"quantitative","title":null}}},
{"mark":{"type":"text","text":"ASTM","fontSize":31},"encoding":{"x":{"datum":3.154,"type":"quantitative","axis":null},"y":{"datum":88.1,"type":"quantitative","title":null}}},
{"mark":{"type":"text","text":"JIS","fontSize":28},"encoding":{"x":{"datum":0.629,"type":"quantitative","axis":null},"y":{"datum":50.6,"type":"quantitative","title":null}}},
{"mark":"rule","encoding":{"x":{"datum":1.033,"type":"quantitative","axis":null},"x2":{"datum":1.227},"y":{"datum":50,"type":"quantitative","title":null},"y2":{"datum":42.3}}}
]}
]
}
],
"config":{
"view":{"stroke":null},
"font":"Lato",
"concat":{"spacing":0},
"text":{"font":"Lato","fontStyle":"italic","fontWeight":300,"fontSize":27,"align":"left","baseline":"alphabetic","color":"black"},
"rule":{"color":"black","strokeWidth":1.3},
"rect":{"stroke":"black","strokeWidth":1.2},
"axis":{"domainColor":"black","domainWidth":1.5,"tickColor":"black","tickWidth":1.3,"tickSize":6,"labelFont":"Lato","labelFontStyle":"italic","labelFontWeight":300,"labelFontSize":25,"labelColor":"black","labelPadding":5,"titleFont":"Lato","titleFontStyle":"italic","titleFontWeight":300,"titleFontSize":24,"titleColor":"black","grid":false}
}
}
